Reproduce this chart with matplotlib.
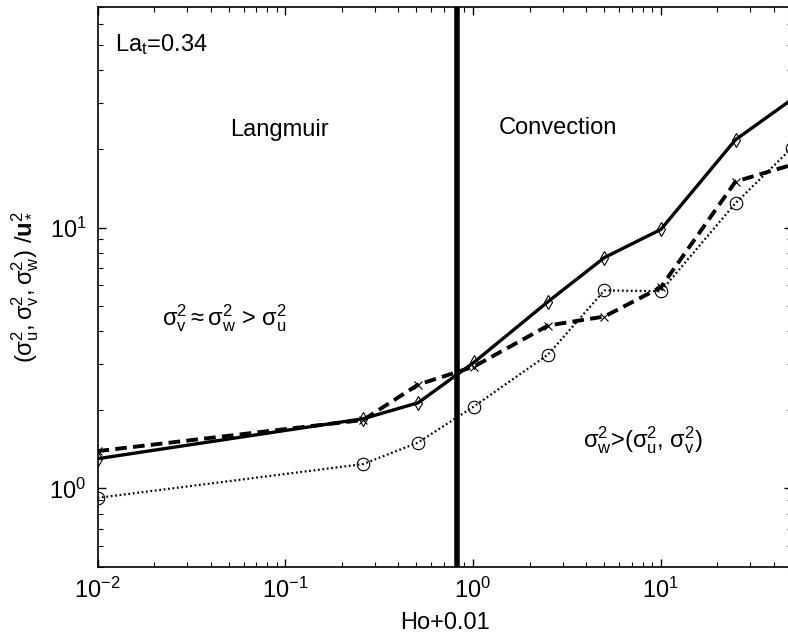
import matplotlib
matplotlib.use("Agg")
import matplotlib.pyplot as plt
from matplotlib.ticker import LogLocator, NullFormatter

plt.rcParams['font.family'] = ['Liberation Sans', 'DejaVu Sans']
plt.rcParams['mathtext.fontset'] = 'custom'
plt.rcParams['mathtext.rm'] = 'Liberation Sans'
plt.rcParams['mathtext.it'] = 'Liberation Sans'
plt.rcParams['mathtext.bf'] = 'Liberation Sans:bold'
plt.rcParams['mathtext.default'] = 'regular'

# data
ho = [0.01, 0.26, 0.51, 1.01, 2.51, 5.01, 10.01, 25.01, 50.01]
sigma_w2 = [1.30, 1.85, 2.13, 3.04, 5.2, 7.67, 9.83, 21.7, 31.0]
sigma_v2 = [1.39, 1.83, 2.50, 2.93, 4.21, 4.56, 5.9, 15.0, 17.4]
sigma_u2 = [0.92, 1.24, 1.50, 2.06, 3.26, 5.74, 5.7, 12.4, 20.2]
ho_boundary = 0.82
x_ticks = [0.01, 0.1, 1, 10]
x_ticklabels = ['$10^{-2}$', '$10^{-1}$', '$10^{0}$', '$10^{1}$']
y_ticks = [1, 10]
y_ticklabels = ['$10^{0}$', '$10^{1}$']

fig = plt.figure(figsize=(7.88, 6.35), dpi=100)
L, R, T, B = 97.5, 792.0, 7.0, 567.0
ax = fig.add_axes([L / 788, (635 - B) / 635, (R - L) / 788, (B - T) / 635])

ax.plot(ho, sigma_w2, color='black', lw=2.4, ls='-', marker='d', ms=7,
        mfc='none', mec='black', mew=0.8)
ax.plot(ho, sigma_v2, color='black', lw=2.8, ls=(0, (3, 1.6)), marker='x', ms=6,
        mec='black', mew=0.8)
ax.plot(ho, sigma_u2, color='black', lw=1.6, ls=(0, (0.8, 1.2)), marker='o', ms=9,
        mfc='none', mec='black', mew=0.8)
ax.axvline(ho_boundary, color='black', lw=4)

ax.set_xscale('log')
ax.set_yscale('log')
ax.set_xlim(0.01, 50)
ax.set_ylim(0.5, 70)
ax.set_xticks(x_ticks)
ax.set_xticklabels(x_ticklabels)
ax.set_yticks(y_ticks)
ax.set_yticklabels(y_ticklabels)
ax.xaxis.set_minor_locator(LogLocator(base=10, subs=range(2, 10)))
ax.yaxis.set_minor_locator(LogLocator(base=10, subs=range(2, 10)))
ax.xaxis.set_minor_formatter(NullFormatter())
ax.yaxis.set_minor_formatter(NullFormatter())
ax.tick_params(which='both', direction='in', top=True, right=True, labelsize=17)
ax.tick_params(which='major', length=6, width=1)
ax.tick_params(which='minor', length=3.5, width=0.8)
ax.tick_params(axis='x', pad=8)
ax.tick_params(axis='y', pad=8)
for s in ax.spines.values():
    s.set_linewidth(1.2)

ax.set_xlabel('Ho+0.01', fontsize=17, labelpad=6)
ax.set_ylabel(r'$(\sigma_u^2, \sigma_v^2, \sigma_w^2)\ /\mathbf{u}_*^2$', fontsize=17, labelpad=6)

def fx(px):
    return (px - L) / (R - L)

def fy(py):
    return (B - py) / (B - T)

ax.text(fx(115), fy(45), 'La$_t$=0.34', transform=ax.transAxes, fontsize=17,
        ha='left', va='center')
ax.text(fx(279), fy(130), 'Langmuir', transform=ax.transAxes, fontsize=17,
        ha='center', va='center')
ax.text(fx(558), fy(128), 'Convection', transform=ax.transAxes, fontsize=17,
        ha='center', va='center')
ax.text(fx(225), fy(318), r'$\sigma_v^2 \approx \sigma_w^2$ > $\sigma_u^2$',
        transform=ax.transAxes, fontsize=17, ha='center', va='center')
ax.text(fx(643), fy(440), r'$\sigma_w^2$>($\sigma_u^2$, $\sigma_v^2$)',
        transform=ax.transAxes, fontsize=17, ha='center', va='center')

fig.savefig('out.png', dpi=100)
